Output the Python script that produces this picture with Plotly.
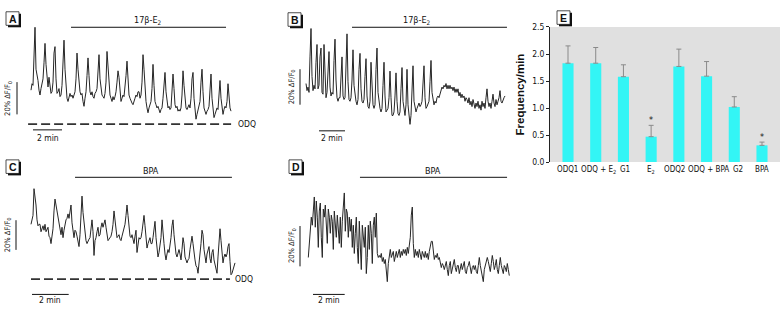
import numpy as np
import plotly.graph_objects as go

W, H = 781, 312
FONT = "DejaVu Sans Condensed, Liberation Sans, sans-serif"

# ---------------- data ----------------
# Ca2+ traces, ΔF/F0 in %, uniformly sampled
trace_a = [21, 25, 24, 44, 60, 34, 31, 27, 21, 18,
           22, 25, 28, 38, 50, 37, 28, 23, 29, 22,
           19, 20, 26, 44, 48, 28, 19, 20, 22, 17,
           18, 24, 40, 52, 34, 21, 16, 14, 17, 19,
           17, 18, 16, 19, 20, 28, 44, 34, 25, 20,
           18, 19, 14, 11, 16, 20, 30, 41, 30, 20,
           18, 20, 17, 16, 19, 20, 22, 34, 43, 28,
           20, 18, 17, 16, 19, 26, 45, 34, 24, 18,
           16, 14, 17, 15, 17, 20, 26, 33, 29, 21,
           14, 16, 18, 17, 22, 30, 39, 26, 18, 16,
           14, 13, 12, 15, 16, 18, 17, 20, 20, 16,
           18, 26, 43, 34, 21, 14, 10, 7, 10, 12,
           14, 22, 37, 24, 14, 12, 10, 11, 8, 7,
           9, 10, 16, 28, 32, 20, 13, 10, 11, 9,
           10, 18, 31, 22, 12, 10, 11, 8, 9, 8,
           10, 18, 33, 24, 13, 10, 9, 11, 12, 10,
           16, 28, 32, 16, 8, 3, 6, 9, 10, 14,
           26, 34, 20, 10, 8, 6, 8, 9, 11, 22,
           31, 16, 8, 4, 6, 8, 10, 9, 18, 27,
           16, 10, 6, 9, 11, 10, 14, 25, 14, 10,
           8]
trace_b = [23, 19, 21, 18, 38, 54, 27, 19, 22, 20,
           35, 45, 20, 22, 38, 43, 18, 17, 45, 24,
           15, 18, 31, 41, 21, 16, 18, 17, 36, 48,
           25, 15, 13, 15, 15, 31, 38, 16, 14, 15,
           40, 51, 24, 14, 13, 15, 25, 42, 22, 15,
           13, 11, 14, 31, 40, 20, 13, 12, 14, 27,
           37, 16, 10, 9, 13, 35, 22, 11, 9, 11,
           31, 43, 18, 12, 9, 7, 9, 22, 35, 16,
           7, 8, 9, 15, 30, 15, 5, 5, 7, 16,
           29, 13, 6, 5, 7, 20, 32, 13, 7, 5,
           11, 31, 11, 4, 0, 5, 20, 33, 13, 9,
           7, 9, 11, 12, 10, 11, 13, 25, 33, 15,
           9, 10, 12, 13, 24, 36, 18, 13, 11, 13,
           12, 15, 16, 15, 17, 19, 21, 20, 22, 21,
           23, 20, 22, 20, 22, 20, 21, 19, 21, 18,
           20, 18, 20, 16, 18, 15, 17, 15, 16, 13,
           15, 14, 12, 15, 11, 13, 10, 14, 11, 9,
           12, 10, 13, 9, 11, 8, 13, 10, 12, 9,
           15, 20, 13, 10, 12, 9, 13, 17, 12, 10,
           14, 11, 13, 15, 19, 13, 12, 14, 15, 16]
trace_c = [37, 40, 43, 61, 57, 50, 40, 36, 37, 37,
           32, 35, 36, 33, 37, 32, 34, 35, 29, 28,
           24, 30, 34, 46, 54, 50, 46, 41, 35, 32,
           30, 35, 28, 33, 37, 40, 41, 44, 41, 47,
           50, 38, 30, 28, 33, 32, 29, 26, 22, 30,
           43, 56, 45, 37, 32, 26, 24, 26, 27, 28,
           35, 40, 32, 16, 26, 28, 32, 35, 29, 30,
           35, 38, 35, 39, 40, 35, 29, 26, 27, 28,
           29, 32, 37, 46, 41, 33, 28, 29, 30, 27,
           26, 29, 32, 34, 37, 43, 50, 43, 33, 29,
           28, 30, 27, 24, 29, 33, 18, 22, 28, 27,
           28, 32, 38, 43, 36, 29, 21, 24, 27, 28,
           24, 24, 28, 33, 39, 28, 21, 15, 18, 22,
           28, 40, 34, 24, 17, 13, 17, 20, 18, 22,
           28, 36, 40, 30, 20, 17, 15, 18, 20, 17,
           13, 20, 28, 24, 15, 13, 11, 13, 14, 20,
           26, 29, 24, 17, 13, 9, 8, 4, 10, 15,
           24, 33, 30, 20, 13, 11, 17, 21, 22, 14,
           11, 18, 20, 13, 10, 7, 4, 15, 28, 34,
           26, 18, 11, 15, 17, 15, 17, 22, 24, 12,
           3, 4, 7, 9, 11]
trace_d = [14, 21, 27, 34, 30, 40, 44, 29, 42, 34,
           19, 37, 41, 24, 14, 38, 34, 40, 30, 21,
           38, 34, 26, 35, 32, 18, 37, 30, 24, 35,
           27, 21, 34, 19, 32, 41, 46, 27, 38, 36,
           24, 34, 27, 33, 19, 30, 16, 26, 34, 19,
           11, 32, 22, 8, 30, 24, 19, 29, 6, 14,
           30, 18, 32, 26, 11, 30, 34, 24, 36, 16,
           14, 15, 14, 16, 12, 14, 11, 13, 6, 2,
           11, 16, 18, 14, 16, 17, 12, 15, 17, 14,
           16, 18, 14, 17, 15, 18, 16, 18, 15, 19,
           16, 21, 24, 35, 39, 21, 14, 18, 15, 17,
           14, 18, 16, 13, 17, 15, 14, 17, 14, 16,
           13, 17, 19, 22, 22, 16, 13, 15, 14, 16,
           13, 14, 12, 9, 11, 10, 8, 10, 12, 8,
           5, 10, 12, 6, 9, 11, 13, 9, 7, 10,
           10, 6, 9, 11, 8, 10, 12, 7, 6, 9,
           10, 12, 8, 6, 9, 10, 8, 10, 7, 6,
           10, 14, 10, 7, 5, 2, 8, 10, 13, 14,
           12, 9, 7, 11, 15, 12, 8, 10, 13, 8,
           6, 10, 14, 10, 8, 6, 10, 9, 7, 11,
           8, 5]
# sampling interval of each recording (min per sample)
dt_a = 2 / 29
dt_b = 2 / 26
dt_c = 2 / 36.7
dt_d = 2 / 31.7
# drug application periods (min from start of recording)
e2_a = (2.76, 13.45)
e2_b = (3.54, 15.46)
bpa_c = (2.40, 10.95)
bpa_d = (3.26, 12.54)
# ODQ periods (dashed lines)
odq_a = (-0.2, 13.8)
odq_c = (0.0, 10.84)

# Panel E: oscillation frequency
conditions = ["ODQ1", "ODQ + E2", "G1", "E2", "ODQ2", "ODQ + BPA", "G2", "BPA"]
tick_labels = ["ODQ1", "ODQ + E<sub>2</sub>", "G1", "E<sub>2</sub>",
               "ODQ2", "ODQ + BPA", "G2", "BPA"]
freq = [1.83, 1.83, 1.58, 0.47, 1.77, 1.59, 1.02, 0.31]
err = [0.32, 0.29, 0.22, 0.21, 0.32, 0.27, 0.19, 0.06]
signif = [False, False, False, True, False, False, False, True]

# small horizontal nudges (px) of crowded category labels
label_shift = [-1, 3, 2, 0, -4, 2, 4, 0]


# ---------------- layout helpers ----------------
def pxx(x):
    return x / W


def pxy(y):
    return 1 - y / H


fig = go.Figure()
shapes = []
annos = []

# panel geometry (pixels): domain box, trace origin, px per min, y of 0 %, px per %
panels = {
    "A": dict(n="", box=(2, 262, 2, 150), xs=31.0, kx=14.5, y0=123.0, ky=5 / 3),
    "B": dict(n="2", box=(265, 522, 2, 150), xs=306.0, kx=13.0, y0=123.3, ky=5.5 / 3),
    "C": dict(n="3", box=(2, 262, 152, 310), xs=31.0, kx=18.35, y0=283.3, ky=4.6 / 3),
    "D": dict(n="4", box=(265, 522, 152, 310), xs=308.3, kx=15.85, y0=290.0, ky=6.25 / 3),
}
series = {"A": (trace_a, dt_a), "B": (trace_b, dt_b), "C": (trace_c, dt_c), "D": (trace_d, dt_d)}

layout_axes = {}
for key, p in panels.items():
    X0, X1, Yt, Yb = p["box"]
    n = p["n"]
    layout_axes["xaxis" + n] = dict(domain=[pxx(X0), pxx(X1)],
                                    range=[(X0 - p["xs"]) / p["kx"], (X1 - p["xs"]) / p["kx"]],
                                    visible=False, anchor="y" + n, fixedrange=True)
    layout_axes["yaxis" + n] = dict(domain=[pxy(Yb), pxy(Yt)],
                                    range=[(p["y0"] - Yb) / p["ky"], (p["y0"] - Yt) / p["ky"]],
                                    visible=False, anchor="x" + n, fixedrange=True)
    vals, dt = series[key]
    fig.add_trace(go.Scatter(x=np.arange(len(vals)) * dt, y=vals, mode="lines",
                             line=dict(color="#262626", width=1),
                             xaxis="x" + n, yaxis="y" + n, showlegend=False,
                             hoverinfo="skip"))


def dx(key, x):
    p = panels[key]
    return (x - p["xs"]) / p["kx"]


def dy(key, y):
    p = panels[key]
    return (p["y0"] - y) / p["ky"]


def line_data(key, x0, x1, y0, y1, width=1.0, dash="solid", color="#111"):
    n = panels[key]["n"]
    shapes.append(dict(type="line", xref="x" + n, yref="y" + n, x0=x0, x1=x1, y0=y0, y1=y1,
                       line=dict(color=color, width=width, dash=dash)))


def text(x, y, s, size=9, angle=0, xanchor="center", family=FONT):
    annos.append(dict(x=pxx(x), y=pxy(y), xref="paper", yref="paper", text=s,
                      showarrow=False, xanchor=xanchor, yanchor="middle", textangle=angle,
                      font=dict(family=family, size=size, color="#111")))


def letter(x0, y0, s):
    shapes.append(dict(type="rect", xref="paper", yref="paper", x0=pxx(x0), x1=pxx(x0 + 13),
                       y0=pxy(y0 + 14), y1=pxy(y0), line=dict(color="#222", width=0.8),
                       fillcolor="white"))
    shapes.append(dict(type="line", xref="paper", yref="paper", x0=pxx(x0 + 14), x1=pxx(x0 + 14),
                       y0=pxy(y0 + 2), y1=pxy(y0 + 15.5), line=dict(color="#111", width=2)))
    shapes.append(dict(type="line", xref="paper", yref="paper", x0=pxx(x0 + 2), x1=pxx(x0 + 15),
                       y0=pxy(y0 + 15), y1=pxy(y0 + 15), line=dict(color="#111", width=2)))
    annos.append(dict(x=pxx(x0 + 6.5), y=pxy(y0 + 7.3), xref="paper", yref="paper",
                      text="<b>%s</b>" % s, showarrow=False, xanchor="center", yanchor="middle",
                      font=dict(family="Liberation Sans, Arial, sans-serif", size=10.5,
                                color="#111")))


# ---- panel A ----
line_data("A", e2_a[0], e2_a[1], dy("A", 23), dy("A", 23))
text(148, 16, "17β-E<sub>2</sub>", size=9)
line_data("A", odq_a[0], odq_a[1], 0, 0, width=1.8, dash="9px,4px", color="#333")
text(236, 123, "ODQ", size=8.5, xanchor="left")
line_data("A", dx("A", 17), dx("A", 17), dy("A", 113), dy("A", 113) + 20)
text(8, 97, "20% ΔF/F<sub>0</sub>", size=7.5, angle=-90)
line_data("A", dx("A", 33), dx("A", 33) + 2, dy("A", 129), dy("A", 129))
text(48, 137, "2 min", size=8.5)
letter(6, 7, "A")

# ---- panel B ----
line_data("B", e2_b[0], e2_b[1], dy("B", 23), dy("B", 23))
text(417, 16, "17β-E<sub>2</sub>", size=9)
line_data("B", dx("B", 300), dx("B", 300), dy("B", 103), dy("B", 103) + 20)
text(292, 85, "20% ΔF/F<sub>0</sub>", size=7.5, angle=-90)
line_data("B", dx("B", 319), dx("B", 319) + 2, dy("B", 130), dy("B", 130))
text(332, 137, "2 min", size=8.5)
letter(288, 8, "B")

# ---- panel C ----
line_data("C", bpa_c[0], bpa_c[1], dy("C", 178), dy("C", 178))
text(151, 172, "BPA", size=9)
line_data("C", odq_c[0], odq_c[1], 0, 0, width=1.8, dash="9px,4px", color="#333")
text(233, 283.5, "ODQ", size=8.5, xanchor="left")
line_data("C", dx("C", 16), dx("C", 16), dy("C", 253), dy("C", 253) + 20)
text(8, 238, "20% ΔF/F<sub>0</sub>", size=7.5, angle=-90)
line_data("C", dx("C", 32), dx("C", 32) + 2, dy("C", 299), dy("C", 299))
text(50, 305, "2 min", size=8.5)
letter(6, 160, "C")

# ---- panel D ----
line_data("D", bpa_d[0], bpa_d[1], dy("D", 178), dy("D", 178))
text(433, 172, "BPA", size=9)
line_data("D", dx("D", 300), dx("D", 300), dy("D", 270), dy("D", 270) + 20)
text(292, 249, "20% ΔF/F<sub>0</sub>", size=7.5, angle=-90)
line_data("D", dx("D", 313), dx("D", 313) + 2, dy("D", 299), dy("D", 299))
text(329, 305, "2 min", size=8.5)
letter(289, 160, "D")

# ---- panel E: bar chart ----
fig.add_trace(go.Bar(x=conditions, y=freq, xaxis="x5", yaxis="y5", showlegend=False,
                     marker=dict(color="#33f5f5", line=dict(width=0)),
                     error_y=dict(type="data", array=err, arrayminus=[0] * len(err),
                                  symmetric=False, color="#8a8a8a", thickness=1, width=2.5),
                     hoverinfo="skip"))
shapes.append(dict(type="rect", xref="x5 domain", yref="y5 domain", x0=0, x1=1, y0=0, y1=1,
                   fillcolor="#e0e0e0", line=dict(width=0), layer="below"))
for c, v, e, s in zip(conditions, freq, err, signif):
    if s:
        annos.append(dict(x=c, y=v + e, xref="x5", yref="y5", text="*", showarrow=False,
                          yanchor="bottom", yshift=-2, font=dict(family=FONT, size=9, color="#111")))
# category labels
for c, t, sh in zip(conditions, tick_labels, label_shift):
    annos.append(dict(x=c, y=0, xref="x5", yref="y5", text=t, showarrow=False,
                      xanchor="center", yanchor="top", xshift=sh, yshift=-2, borderpad=0,
                      font=dict(family=FONT, size=8, color="#111")))
letter(557, 6, "E")

layout_axes["xaxis5"] = dict(domain=[pxx(550), pxx(780)], anchor="y5", showline=False,
                             ticks="", fixedrange=True, showticklabels=False,
                             range=[-0.65, len(conditions) - 0.35], showgrid=False)
layout_axes["yaxis5"] = dict(domain=[pxy(162.3), pxy(22.7)], anchor="x5", range=[0, 2.5],
                             dtick=0.5, tickformat=".1f", showline=True, linecolor="#222",
                             linewidth=1, ticks="outside", ticklen=3, tickcolor="#222",
                             showgrid=False, zeroline=False, fixedrange=True,
                             tickfont=dict(family=FONT, size=8.5, color="#111"),
                             title=dict(text="<b>Frequency/min</b>", standoff=5,
                                        font=dict(family="Liberation Sans, Arial, sans-serif",
                                                  size=11.5, color="#111")))

fig.update_layout(width=W, height=H, autosize=False,
                  margin=dict(l=0, r=0, t=0, b=0),
                  paper_bgcolor="white", plot_bgcolor="rgba(0,0,0,0)",
                  bargap=0.6, shapes=shapes, annotations=annos, hovermode=False,
                  **layout_axes)

fig.write_html("out.html", config={"displayModeBar": False},
               post_script="document.body.style.margin='0';document.body.style.padding='0';")
